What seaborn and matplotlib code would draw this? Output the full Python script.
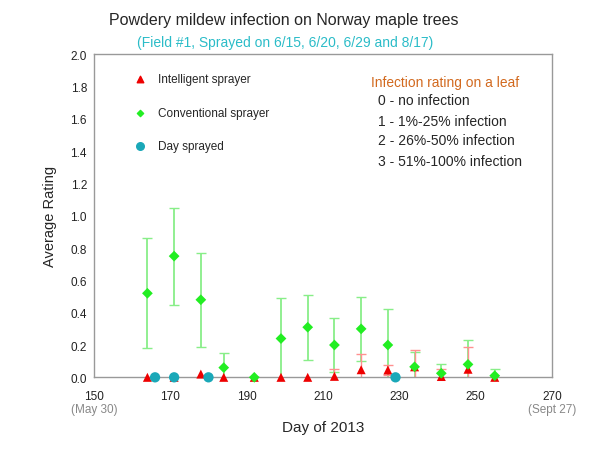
import numpy as np
import pandas as pd
import matplotlib
matplotlib.use('Agg')
import matplotlib.pyplot as plt
import seaborn as sns

# ------------------------------------------------------------
# Data (Field #1, 2013)
# ------------------------------------------------------------
days = [164, 171, 178, 184, 192, 199, 206, 213, 220, 227, 234, 241, 248, 255]
conv_mean = [0.52, 0.75, 0.48, 0.06, 0.0, 0.24, 0.31, 0.20, 0.30, 0.20, 0.065, 0.025, 0.08, 0.01]
conv_err = [0.34, 0.30, 0.29, 0.09, 0.0, 0.25, 0.20, 0.17, 0.20, 0.22, 0.09, 0.055, 0.15, 0.04]
intel_mean = [0.0, 0.0, 0.02, 0.0, 0.0, 0.0, 0.0, 0.006, 0.047, 0.045, 0.065, 0.005, 0.05, 0.0]
intel_err = [0.0, 0.0, 0.0, 0.0, 0.0, 0.0, 0.0, 0.045, 0.095, 0.03, 0.105, 0.045, 0.14, 0.0]
spray_days = [166, 171, 180, 229]
spray_vals = [0.0, 0.0, 0.0, 0.0]

rating_lines = ['0 - no infection', '1 - 1%-25% infection',
                '2 - 26%-50% infection', '3 - 51%-100% infection']

df = pd.DataFrame({'day': days, 'conv': conv_mean, 'conv_err': conv_err,
                   'intel': intel_mean, 'intel_err': intel_err})
sprays = pd.DataFrame({'day': spray_days, 'rating': spray_vals})

RED = '#ee0000'
GREEN = '#22ee22'
TEAL = '#1aa8b8'
GRAY = '#999999'

sns.set_style('white')
plt.rcParams['font.family'] = ['Liberation Sans', 'DejaVu Sans']

fig = plt.figure(figsize=(5.91, 4.52), dpi=100)
ax = fig.add_axes([0.159, 0.163, 0.775, 0.715])

# error bars first (clipped at 0 like the original)
ax.errorbar(df['day'], df['conv'], yerr=df['conv_err'], fmt='none',
            ecolor='#88ee88', elinewidth=1.3, capsize=3.5, capthick=1.0, zorder=2)
mask = df['intel_err'] > 0
ax.errorbar(df.loc[mask, 'day'], df.loc[mask, 'intel'], yerr=df.loc[mask, 'intel_err'],
            fmt='none', ecolor='#ff9090', elinewidth=1.0, capsize=3.5, capthick=1.0, zorder=2)

sns.scatterplot(data=df, x='day', y='intel', marker='^', s=42, color=RED,
                edgecolor='none', ax=ax, zorder=3, clip_on=False)
sns.scatterplot(data=sprays, x='day', y='rating', marker='o', s=55, color=TEAL,
                edgecolor='none', ax=ax, zorder=4, clip_on=False)
sns.scatterplot(data=df, x='day', y='conv', marker='D', s=30, color=GREEN,
                edgecolor='none', ax=ax, zorder=5, clip_on=False)

ax.set_xlim(150, 270)
ax.set_ylim(0, 2.0)
ax.set_xticks(np.arange(150, 271, 20))
ax.set_yticks(np.arange(0, 2.01, 0.2))
ax.set_yticklabels([f'{v:.1f}' for v in np.arange(0, 2.01, 0.2)])
ax.tick_params(axis='both', direction='in', length=5, width=1, color='#bbbbbb',
               labelsize=8.5, labelcolor='#222222')
ax.tick_params(axis='x', pad=9)
ax.tick_params(axis='y', pad=5)
for s in ax.spines.values():
    s.set_color(GRAY)
    s.set_linewidth(1.0)

ax.set_xlabel('Day of 2013', fontsize=11, labelpad=13)
ax.set_ylabel('Average Rating', fontsize=10.5, labelpad=10)

# date hints under the axis ends
for x, lab in [(150, '(May 30)'), (270, '(Sept 27)')]:
    ax.text(x, -0.099, lab, transform=ax.get_xaxis_transform(), ha='center',
            va='center', fontsize=8.5, color='#888888')

# legend drawn by hand
leg_items = [('^', RED, 'Intelligent sprayer', 22),
             ('D', GREEN, 'Conventional sprayer', 10),
             ('o', TEAL, 'Day sprayed', 30)]
for (mk, col, lab, sz), yy in zip(leg_items, [0.923, 0.818, 0.716]):
    ax.scatter([0.10], [yy], marker=mk, s=sz, color=col, transform=ax.transAxes,
               clip_on=False, zorder=6)
    ax.text(0.14, yy, lab, transform=ax.transAxes, va='center', fontsize=8.5)

ax.text(0.604, 0.915, 'Infection rating on a leaf', transform=ax.transAxes,
        va='center', fontsize=9.9, color='#d2691e')
for line, yy in zip(rating_lines, [0.858, 0.794, 0.733, 0.669]):
    ax.text(0.62, yy, line, transform=ax.transAxes, va='center', fontsize=10)

fig.text(0.48, 0.955, 'Powdery mildew infection on Norway maple trees',
         ha='center', va='center', fontsize=11.5)
fig.text(0.482, 0.905, '(Field #1, Sprayed on 6/15, 6/20, 6/29 and 8/17)',
         ha='center', va='center', fontsize=10, color='#2bbcc8')

fig.savefig('out.png', dpi=100)
